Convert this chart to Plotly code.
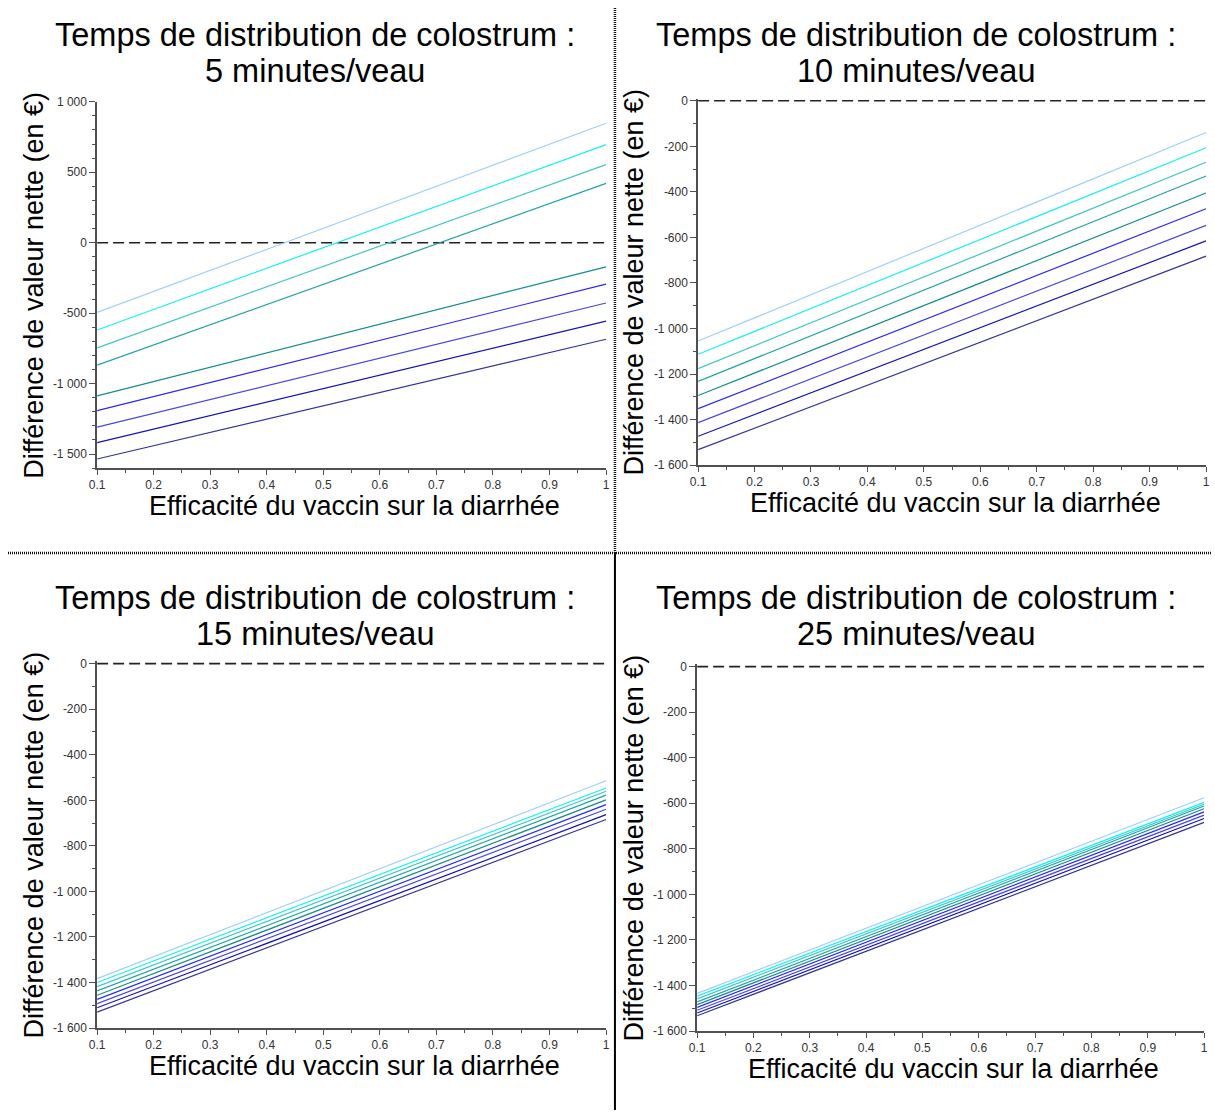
import plotly.graph_objects as go

# Vaccine efficacy against diarrhoea (x) – each scenario is a straight line
x_eff = [0.1, 1.0]

# Net value difference (EUR) at 10 % and 100 % efficacy, one value per scenario line
p5_start = [-495, -620, -746, -869, -1087, -1192, -1309, -1419, -1535]
p5_end = [848, 696, 554, 421, -171, -294, -428, -557, -685]

p10_start = [-1055, -1113, -1176, -1232, -1294, -1352, -1413, -1473, -1532]
p10_end = [-139, -206, -270, -330, -405, -474, -547, -615, -682]

p15_start = [-1383, -1400, -1418, -1437, -1456, -1474, -1493, -1511, -1530]
p15_end = [-514, -546, -560, -577, -598, -619, -639, -663, -684]

p25_start = [-1435, -1447, -1459, -1472, -1484, -1496, -1509, -1521, -1533]
p25_end = [-576, -596, -604, -612, -624, -638, -652, -667, -684]

line_colors = ["#9fcfff", "#18eef6", "#40c6c6", "#22a4a4", "#168c8c",
               "#2828f4", "#4848dc", "#1414b4", "#34349a"]

panel_times = ["5 minutes/veau", "10 minutes/veau", "15 minutes/veau", "25 minutes/veau"]
title_line1 = "Temps de distribution de colostrum :"
x_title = "Efficacité du vaccin sur la diarrhée"
y_title = "Différence de valeur nette (en €)"

x_tickvals = [0.1, 0.2, 0.3, 0.4, 0.5, 0.6, 0.7, 0.8, 0.9, 1.0]
x_ticktext = ["0.1", "0.2", "0.3", "0.4", "0.5", "0.6", "0.7", "0.8", "0.9", "1"]

y1_tickvals = [-1500, -1000, -500, 0, 500, 1000]
y1_ticktext = ["-1 500", "-1 000", "-500", "0", "500", "1 000"]
y_tickvals = [-1600, -1400, -1200, -1000, -800, -600, -400, -200, 0]
y_ticktext = ["-1 600", "-1 400", "-1 200", "-1 000", "-800", "-600", "-400", "-200", "0"]

zero_line = [0, 0]

W, H = 1215, 1117
FONT = "Liberation Sans, Arial, sans-serif"


def fx(p):
    return p / W


def fy(p):
    return 1 - p / H


# pixel boxes of each plotting area: left, right, top, bottom
panels = [
    dict(box=(90, 604, 96, 467), rng=[-1600, 1000], tv=y1_tickvals, tt=y1_ticktext,
         start=p5_start, end=p5_end),
    dict(box=(697, 1210, 92.7, 464), rng=[-1600, 10], tv=y_tickvals, tt=y_ticktext,
         start=p10_start, end=p10_end),
    dict(box=(90, 604, 662.7, 1034), rng=[-1600, 10], tv=y_tickvals, tt=y_ticktext,
         start=p15_start, end=p15_end),
    dict(box=(696, 1208, 665.7, 1037), rng=[-1600, 10], tv=y_tickvals, tt=y_ticktext,
         start=p25_start, end=p25_end),
]

fig = go.Figure()
layout = dict(
    width=W, height=H, margin=dict(l=0, r=0, t=0, b=0),
    paper_bgcolor="white", plot_bgcolor="white", showlegend=False,
    annotations=[], shapes=[],
)

axis_common = dict(
    showline=True, linecolor="#505050", linewidth=1.6,
    ticks="outside", ticklen=6, tickwidth=1, tickcolor="#505050",
    showgrid=False, zeroline=False, tickmode="array",
    tickfont=dict(family=FONT, size=12, color="#333333"),
)

for i, p in enumerate(panels):
    n = "" if i == 0 else str(i + 1)
    xa, ya = "x" + n, "y" + n
    left, right, top, bottom = p["box"]
    layout["xaxis" + n] = dict(
        axis_common, domain=[fx(left), fx(right)], range=[0.1, 1.0], anchor=ya,
        tickvals=x_tickvals, ticktext=x_ticktext, ticklen=5,
        minor=dict(ticks="outside", ticklen=3, tickmode="linear", tick0=0, dtick=0.05,
                   tickcolor="#505050"),
    )
    layout["yaxis" + n] = dict(
        axis_common, domain=[fy(bottom), fy(top)], range=p["rng"], anchor=xa,
        tickvals=p["tv"], ticktext=p["tt"],
        minor=dict(ticks="outside", ticklen=3, tickmode="linear", tick0=0, dtick=100,
                   tickcolor="#505050"),
    )

    # dashed break-even line
    fig.add_trace(go.Scatter(x=x_eff, y=zero_line, mode="lines", xaxis=xa, yaxis=ya,
                             line=dict(color="#222222", width=1.6, dash="11px,5px"),
                             hoverinfo="skip"))
    for c, y0, y1 in zip(line_colors, p["start"], p["end"]):
        fig.add_trace(go.Scatter(x=x_eff, y=[y0, y1], mode="lines", xaxis=xa, yaxis=ya,
                                 line=dict(color=c, width=1.2)))

    # panel heading, two lines
    cx = 310 if left < 600 else 917
    ty = 0 if top < 500 else 570
    layout["annotations"].append(dict(
        text=title_line1, xref="paper", yref="paper", x=fx(cx), y=fy(ty + 28),
        xanchor="center", yanchor="middle", showarrow=False,
        font=dict(family=FONT, size=32.5, color="black")))
    layout["annotations"].append(dict(
        text=panel_times[i], xref="paper", yref="paper", x=fx(cx), y=fy(ty + 65),
        xanchor="center", yanchor="middle", showarrow=False,
        font=dict(family=FONT, size=32.5, color="black")))

    # axis titles
    layout["annotations"].append(dict(
        text=x_title, xref="paper", yref="paper", x=fx((left + right) / 2 + 3),
        y=fy(bottom + 38), xanchor="center", yanchor="middle", showarrow=False,
        font=dict(family=FONT, size=27, color="black")))
    layout["annotations"].append(dict(
        text=y_title, xref="paper", yref="paper", x=fx(26 if left < 600 else 632),
        y=fy((top + bottom) / 2), xanchor="center", yanchor="middle", showarrow=False,
        textangle=-90, font=dict(family=FONT, size=27, color="black")))

# panel dividers
split_y = fy(553)
split_x = fx(613)
layout["shapes"] += [
    dict(type="line", xref="paper", yref="paper", x0=0, x1=1, y0=split_y, y1=split_y,
         line=dict(color="#111111", width=2.5, dash="1px,1px")),
    dict(type="line", xref="paper", yref="paper", x0=split_x, x1=split_x, y0=split_y, y1=1,
         line=dict(color="#111111", width=2.5, dash="1px,1px")),
    dict(type="line", xref="paper", yref="paper", x0=split_x, x1=split_x, y0=0, y1=split_y,
         line=dict(color="black", width=2)),
]

fig.update_layout(**layout)
fig.write_html("out.html")
